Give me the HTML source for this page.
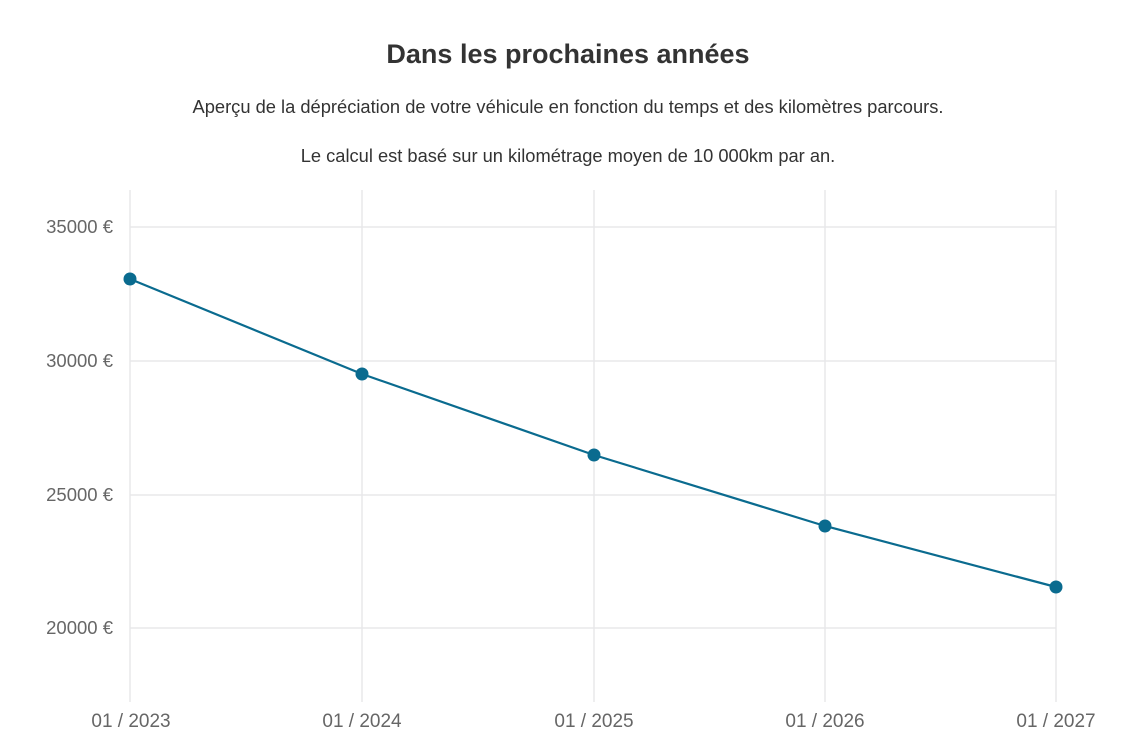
<!DOCTYPE html>
<html><head><meta charset="utf-8"><style>
body{margin:0;background:#fff;width:1122px;height:748px;overflow:hidden;font-family:"Liberation Sans",sans-serif;color:#333}
</style></head><body>
<svg width="1122" height="748" xmlns="http://www.w3.org/2000/svg" font-family="Liberation Sans, sans-serif">
<text x="568" y="63" text-anchor="middle" font-size="27" font-weight="bold" fill="#333">Dans les prochaines années</text>
<text x="568" y="113" text-anchor="middle" font-size="18.3" fill="#333" textLength="751" lengthAdjust="spacingAndGlyphs">Aperçu de la dépréciation de votre véhicule en fonction du temps et des kilomètres parcours.</text>
<text x="568" y="162" text-anchor="middle" font-size="18.3" fill="#333">Le calcul est basé sur un kilométrage moyen de 10 000km par an.</text>
<g stroke="#e8e8ea" stroke-width="1.5">
<line x1="130" y1="227" x2="1056" y2="227"/>
<line x1="130" y1="361" x2="1056" y2="361"/>
<line x1="130" y1="495" x2="1056" y2="495"/>
<line x1="130" y1="628" x2="1056" y2="628"/>
<line x1="130" y1="190" x2="130" y2="702"/>
<line x1="362" y1="190" x2="362" y2="702"/>
<line x1="594" y1="190" x2="594" y2="702"/>
<line x1="825" y1="190" x2="825" y2="702"/>
<line x1="1056" y1="190" x2="1056" y2="702"/>
</g>
<g font-size="18.5" fill="#666" text-anchor="end">
<text x="113" y="233">35000 €</text>
<text x="113" y="367">30000 €</text>
<text x="113" y="501">25000 €</text>
<text x="113" y="634">20000 €</text>
</g>
<g font-size="19" fill="#666" text-anchor="middle">
<text x="131" y="727">01 / 2023</text>
<text x="362" y="727">01 / 2024</text>
<text x="594" y="727">01 / 2025</text>
<text x="825" y="727">01 / 2026</text>
<text x="1056" y="727">01 / 2027</text>
</g>
<polyline points="130,279 362,374 594,455 825,526 1056,587" fill="none" stroke="#0a6b8f" stroke-width="2.2"/>
<g fill="#0a6b8f">
<circle cx="130" cy="279" r="6.5"/><circle cx="362" cy="374" r="6.5"/><circle cx="594" cy="455" r="6.5"/><circle cx="825" cy="526" r="6.5"/><circle cx="1056" cy="587" r="6.5"/>
</g>
</svg>
</body></html>
